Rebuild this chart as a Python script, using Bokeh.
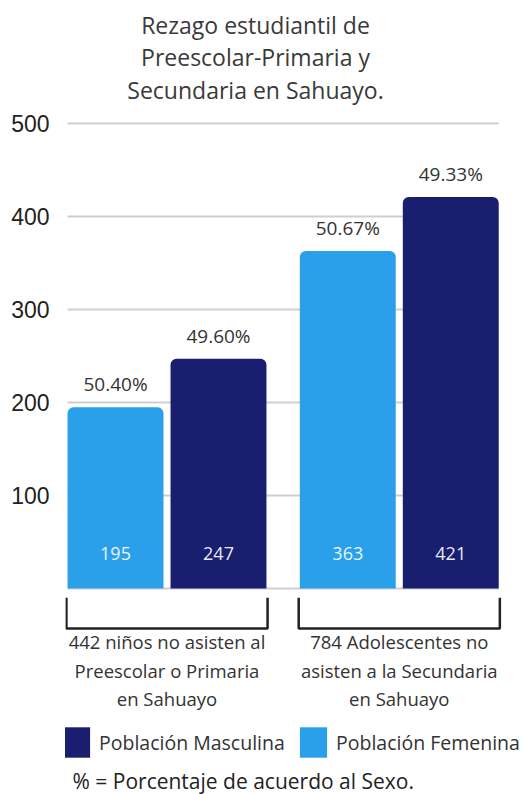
from bokeh.plotting import figure
from bokeh.models import (Range1d, FixedTicker, ColumnDataSource, Legend,
                          LegendItem, Label)
from bokeh.transform import dodge
from bokeh.core.properties import value
from bokeh.embed import file_html
from bokeh.resources import INLINE

# ---------------- data ----------------
title_lines = ["Rezago estudiantil de", "Preescolar-Primaria y", "Secundaria en Sahuayo."]
groups = ["442 niños no asisten al\nPreescolar o Primaria\nen Sahuayo",
          "784 Adolescentes no\nasisten a la Secundaria\nen Sahuayo"]
female = [195, 363]
male = [247, 421]
female_pct = ["50.40%", "50.67%"]
male_pct = ["49.60%", "49.33%"]
y_ticks = [100, 200, 300, 400, 500]
grid_ticks = [0, 100, 200, 300, 400, 500]
legend_labels = ["Población Masculina", "Población Femenina"]
footnote = "% = Porcentaje de acuerdo al Sexo."

LIGHT = "#2a9fea"
DARK = "#1a1e6e"
FONT = "Open Sans"

W = 0.413
OFF = 0.2217

gx = list(range(len(groups)))
src = ColumnDataSource(dict(
    g=gx, female=female, male=male,
    female_s=[str(v) for v in female], male_s=[str(v) for v in male],
    female_pct=female_pct, male_pct=male_pct,
    bx=[[g - 0.433, g - 0.433, g + 0.433, g + 0.433] for g in gx],
    by=[[-10, -43, -43, -10] for _ in gx],
    label=groups, zero=[0 for _ in gx],
))
xmin = gx[0] - OFF - W / 2
xmax = gx[-1] + OFF + W / 2

p = figure(width=530, height=794, output_backend="svg", toolbar_location=None,
           x_range=Range1d(-0.437, 1.565), y_range=Range1d(-221.5, 632.3),
           x_axis_location=None, min_border_left=65, min_border_right=0,
           min_border_top=0, min_border_bottom=0)
p.outline_line_color = None
p.xgrid.grid_line_color = None
p.ygrid.grid_line_color = None

ax = p.yaxis[0]
ax.ticker = FixedTicker(ticks=y_ticks)
ax.axis_line_color = None
ax.major_tick_line_color = None
ax.minor_tick_line_color = None
ax.major_label_standoff = 10
ax.major_label_text_font = "Liberation Sans"
ax.major_label_text_font_size = "23px"
ax.major_label_text_color = "#222222"

# horizontal grid lines spanning the bars
p.segment(x0=[xmin] * len(grid_ticks), x1=[xmax] * len(grid_ticks),
          y0=grid_ticks, y1=grid_ticks, line_color="#cfcfcf", line_width=2)

rf = p.vbar(x=dodge("g", -OFF), top="female", width=W, source=src,
            fill_color=LIGHT, line_color=None, border_radius=(6, 6, 0, 0))
rm = p.vbar(x=dodge("g", OFF), top="male", width=W, source=src,
            fill_color=DARK, line_color=None, border_radius=(6, 6, 0, 0))

# percentage labels above bars and values inside bars
for col, pct in (("female", "female_pct"), ("male", "male_pct")):
    off = -OFF if col == "female" else OFF
    p.text(x=dodge("g", off), y=col, text=pct, source=src, y_offset=-10,
           text_align="center", text_baseline="bottom",
           text_font=value(FONT), text_font_size="19px", text_color="#333333")
    p.text(x=dodge("g", off), y="zero", text=col + "_s", source=src, y_offset=-35,
           text_align="center", text_baseline="middle",
           text_font=value(FONT), text_font_size="18px",
           text_color="#ffffff", text_alpha=0.92)

# brackets and group labels
p.multi_line(xs="bx", ys="by", source=src, line_color="#222222", line_width=2.5)
p.text(x="g", y=-44, text="label", source=src, text_align="center",
       text_baseline="top", text_font=value(FONT), text_font_size="18.5px",
       text_color="#333333", text_line_height=1.13)

# legend
legend = Legend(items=[LegendItem(label=legend_labels[0], renderers=[rm]),
                       LegendItem(label=legend_labels[1], renderers=[rf])],
                location=(-6, 33), orientation="horizontal",
                glyph_width=34, glyph_height=38, label_standoff=6,
                label_width=193, spacing=4, padding=0, margin=0,
                border_line_color=None, background_fill_alpha=0,
                label_text_font=FONT, label_text_font_size="19.5px",
                label_text_color="#333333")
p.add_layout(legend)

# title
p.add_layout(Label(x=190, y=786, x_units="screen", y_units="screen",
                   text="\n".join(title_lines), text_align="center",
                   text_baseline="top", text_font=FONT, text_font_size="23px",
                   text_color="#3a3a3a", text_line_height=1.02))

# footnote
p.add_layout(Label(x=7, y=14, x_units="screen", y_units="screen",
                   text=footnote, text_align="left", text_baseline="middle",
                   text_font=FONT, text_font_size="21px", text_color="#222222"))

open("out.html", "w").write(file_html(p, INLINE))
